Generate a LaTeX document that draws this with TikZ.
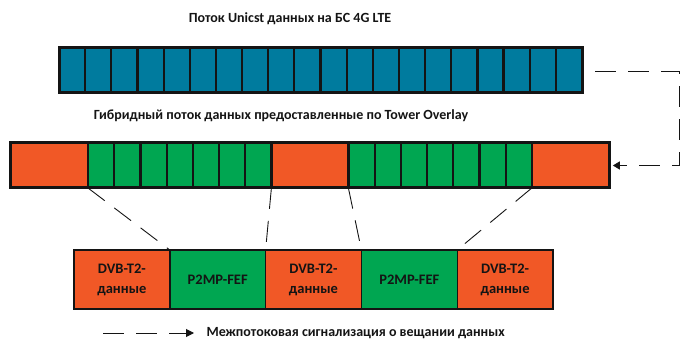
\documentclass[tikz,border=0pt]{standalone}
\usepackage{fontspec}
\setmainfont{Carlito}
\usetikzlibrary{arrows.meta}
\definecolor{teal1}{RGB}{0,123,158}
\definecolor{orng}{RGB}{241,88,38}
\definecolor{grn}{RGB}{0,166,81}
\definecolor{ink}{RGB}{20,20,20}
\begin{document}
\begin{tikzpicture}[x=1pt,y=-1pt,
  cellT/.style={draw=ink,fill=teal1,line width=2.2pt,minimum width=26.15pt,minimum height=45pt,inner sep=0pt,outer sep=0pt,anchor=north west},
  cellG/.style={draw=ink,fill=grn,line width=2.2pt,minimum width=26.2pt,minimum height=45pt,inner sep=0pt,outer sep=0pt,anchor=north west},
  cellO/.style={draw=ink,fill=orng,line width=2.2pt,minimum height=45pt,inner sep=0pt,outer sep=0pt,anchor=north west},
  boxO/.style={draw=ink,fill=orng,line width=1.4pt,minimum width=95.8pt,minimum height=59pt,inner sep=0pt,outer sep=0pt,anchor=north west,font=\bfseries\fontsize{14.5}{20}\selectfont,text=ink,align=center},
  boxG/.style={boxO,fill=grn},
  lbl/.style={font=\bfseries\fontsize{14}{16}\selectfont,text=ink},
  dsh/.style={draw=ink,line width=1pt,dash pattern=on 21pt off 12pt},
  thin/.style={draw=ink,line width=0.9pt,dash pattern=on 21pt off 12pt}
]
\useasboundingbox (0,0) rectangle (680,339);
% top bar
\foreach \i in {1,...,20} {
  \node[cellT] (t\i) at ({59+(\i-1)*26.15},48) {};
}
\draw[ink,line width=3pt] (t1.north west) rectangle (t20.south east);
% middle bar
\node[cellO,minimum width=78pt] (o1) at (10,143) {};
\foreach \i in {1,...,7} {
  \node[cellG] (g\i) at ({88+(\i-1)*26.2},143) {};
}
\node[cellO,minimum width=77pt] (o2) at (271.4,143) {};
\foreach \i in {1,...,7} {
  \node[cellG] (h\i) at ({348.4+(\i-1)*26.2},143) {};
}
\node[cellO,minimum width=78pt] (o3) at (531.8,143) {};
\draw[ink,line width=3pt] (o1.north west) rectangle (o3.south east);
% bottom boxes
\node[boxO] (b1) at (74,250) {DVB-T2-\\данные};
\node[boxG] (b2) at (169.8,250) {P2MP-FEF};
\node[boxO] (b3) at (265.6,250) {DVB-T2-\\данные};
\node[boxG] (b4) at (361.4,250) {P2MP-FEF};
\node[boxO] (b5) at (457.2,250) {DVB-T2-\\данные};
% labels
\node[lbl] (l1) at (290,19) {Поток Unicst данных на БС 4G LTE};
\node[lbl] (l2) at (281,116) {Гибридный поток данных предоставленные по Tower Overlay};
% dashed expansion lines
\draw[thin] (o1.south east) -- (b1.north east);
\draw[thin] (o2.south west) -- (b2.north east);
\draw[thin] (o2.south east) -- (b3.north east);
\draw[thin] (o3.south west) -- (b4.north east);
% right connector
\coordinate (c1) at (679.5,72);
\coordinate (s1) at (595,72);
\draw[dsh,-{Triangle[length=7pt,width=8pt]}] (s1) -- (c1) |- ([xshift=3pt]o3.east);
% legend
\coordinate (k1) at (103,333);
\coordinate (k2) at (194,333);
\draw[dsh,-{Triangle[length=8pt,width=8pt]}] (k1) -- (k2);
\node[lbl,anchor=west] (l3) at (203,333) {Межпотоковая сигнализация о вещании данных};
\end{tikzpicture}
\end{document}
